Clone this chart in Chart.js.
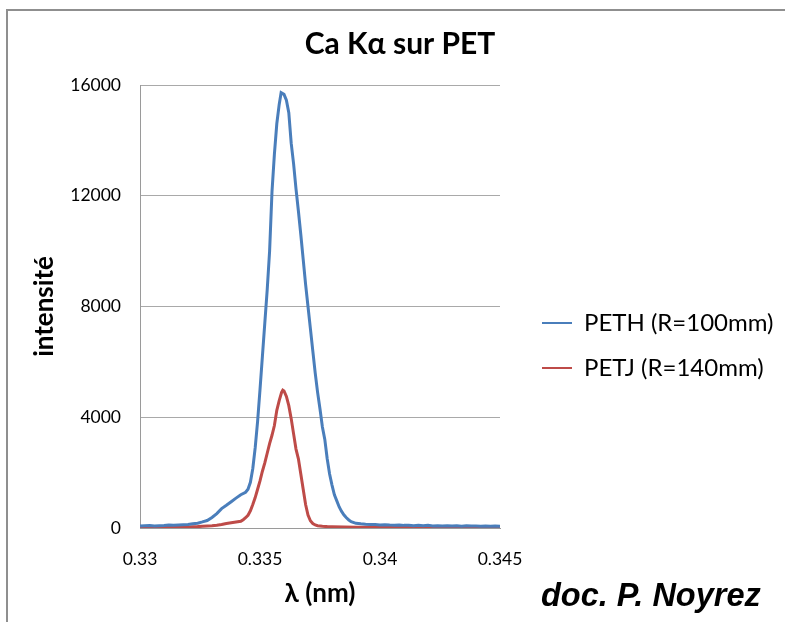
<!DOCTYPE html>
<html>
<head>
<meta charset="utf-8">
<script src="https://cdn.jsdelivr.net/npm/chart.js@4.4.1/dist/chart.umd.min.js"></script>
<style>
  html, body { margin: 0; padding: 0; background: #fff; overflow: hidden; }
  #wrap { position: relative; width: 785px; height: 622px; overflow: hidden; }
  #frame { position: absolute; left: 6px; top: 9px; width: 900px; height: 900px;
           border-left: 2px solid #8f8f8f; border-top: 2px solid #8f8f8f; }
  canvas { position: absolute; left: 0; top: 0; }
  #credit { position: absolute; left: 541px; top: 580px; font-family: "Liberation Sans", Arial, sans-serif;
            font-weight: bold; font-style: italic; font-size: 32.5px; line-height: 31px; color: #000; white-space: nowrap; }
</style>
</head>
<body>
<div id="wrap">
  <div id="frame"></div>
  <canvas id="c" width="785" height="622"></canvas>
  <div id="credit">doc. P. Noyrez</div>
</div>
<script>
// ---- data ----
const chartTitle = 'Ca Kα sur PET';
const xAxisTitle = 'λ (nm)';
const yAxisTitle = 'intensité';
const seriesNames = ['PETH (R=100mm)', 'PETJ (R=140mm)'];
const seriesColors = ['#4a7ebb', '#be4b48'];

const xTickValues = [0.33, 0.335, 0.34, 0.345];
const xTickLabels = ['0.33', '0.335', '0.34', '0.345'];
const yTickValues = [0, 4000, 8000, 12000, 16000];
const yTickLabels = ['0', '4000', '8000', '12000', '16000'];

const lambdaPETH = [
  0.3300, 0.3302, 0.3304, 0.3306, 0.3308, 0.3310, 0.3312, 0.3314, 0.3316, 0.3318,
  0.3320, 0.3322, 0.3324, 0.3326, 0.3328, 0.3330, 0.3332, 0.3334, 0.3336, 0.3338,
  0.3340, 0.3342, 0.3344, 0.3345, 0.3346, 0.3347, 0.3348, 0.3349, 0.3350, 0.3351,
  0.3352, 0.3353, 0.3354, 0.3355, 0.3356, 0.3357, 0.3358, 0.33588, 0.3360, 0.3361,
  0.3362, 0.3363, 0.3364, 0.3365, 0.3366, 0.3367, 0.3368, 0.3369, 0.3370, 0.3371,
  0.3372, 0.3373, 0.3374, 0.3375, 0.3376, 0.3377, 0.3378, 0.3379, 0.3380, 0.3381,
  0.3382, 0.3383, 0.3384, 0.3385, 0.3386, 0.3387, 0.3388, 0.3390, 0.3392, 0.3394,
  0.3396, 0.3398, 0.3400, 0.3402, 0.3404, 0.3406, 0.3408, 0.3410, 0.3412, 0.3414,
  0.3416, 0.3418, 0.3420, 0.3422, 0.3424, 0.3426, 0.3428, 0.3430, 0.3432, 0.3434,
  0.3436, 0.3438, 0.3440, 0.3442, 0.3444, 0.3446, 0.3448, 0.3450
];
const intensityPETH = [
  72, 85, 90, 70, 80, 90, 105, 100, 110, 120,
  125, 150, 175, 220, 270, 380, 520, 700, 820, 950,
  1080, 1200, 1290, 1400, 1650, 2150, 2900, 3850, 5000, 6200,
  7400, 8600, 10000, 12150, 13500, 14600, 15300, 15720, 15660, 15450,
  15000, 13900, 13150, 12250, 11450, 10600, 9700, 8800, 8000, 7200,
  6400, 5600, 4900, 4300, 3650, 3200, 2500, 1950, 1550, 1200,
  980, 760, 600, 470, 370, 290, 230, 170, 150, 135,
  130, 125, 110, 120, 105, 100, 110, 95, 100, 85,
  95, 80, 95, 75, 85, 70, 85, 70, 80, 65,
  80, 70, 75, 65, 75, 60, 70, 65
];

const lambdaPETJ = [
  0.3300, 0.3304, 0.3308, 0.3312, 0.3316, 0.3320, 0.3322, 0.3324, 0.3326, 0.3328,
  0.3330, 0.3332, 0.3334, 0.3336, 0.3338, 0.3340, 0.3342, 0.3343, 0.3344, 0.3345,
  0.3346, 0.3347, 0.3348, 0.3349, 0.3350, 0.3351, 0.3352, 0.3353, 0.3354, 0.3355,
  0.3356, 0.3357, 0.3358, 0.3359, 0.33595, 0.3360, 0.3361, 0.3362, 0.3363, 0.3364,
  0.3365, 0.3366, 0.3367, 0.3368, 0.3369, 0.3370, 0.3371, 0.3372, 0.3373, 0.3374,
  0.3376, 0.3378, 0.3380, 0.3385, 0.3390, 0.3395, 0.3400, 0.3405, 0.3410, 0.3415,
  0.3420, 0.3425, 0.3430, 0.3435, 0.3440, 0.3445, 0.3450
];
const intensityPETJ = [
  35, 35, 30, 35, 35, 40, 45, 50, 60, 70,
  80, 100, 130, 165, 190, 215, 240, 300, 370, 460,
  620, 850, 1100, 1400, 1700, 2050, 2350, 2700, 3050, 3350,
  3700, 4250, 4600, 4900, 4980, 4950, 4750, 4420, 3950, 3400,
  2850, 2500, 1950, 1400, 850, 470, 260, 160, 110, 80,
  60, 50, 45, 35, 30, 30, 28, 25, 25, 25,
  25, 25, 25, 25, 25, 25, 25
];

// ---- layout constants (not data) ----
const LEGEND_LEFT = 542, LEGEND_TOP = 311, TITLE_CENTER_X = 400;
const PLOT_LEFT = 140, PLOT_BOTTOM_GAP = 94;

const toPoints = (xs, ys) => xs.map((x, i) => ({ x: x, y: ys[i] }));

const placementPlugin = {
  id: 'placement',
  afterLayout(chart) {
    const lg = chart.legend;
    if (lg) {
      const p = lg.options.labels.padding;
      lg.left = LEGEND_LEFT - p; lg.right = chart.width;
      lg.top = LEGEND_TOP - p; lg.bottom = chart.height;
      lg.width = lg.right - lg.left; lg.height = lg.bottom - lg.top;
    }
    const t = chart.titleBlock;
    if (t) {
      const w = t.right - t.left;
      t.left = TITLE_CENTER_X - w / 2; t.right = t.left + w;
    }
  }
};

const gridColor = '#a9a9a9';
const axisColor = '#9a9a9a';

new Chart(document.getElementById('c'), {
  type: 'scatter',
  data: {
    datasets: [
      { label: seriesNames[0], data: toPoints(lambdaPETH, intensityPETH), showLine: true,
        borderColor: seriesColors[0], backgroundColor: seriesColors[0], borderWidth: 3,
        pointRadius: 0, tension: 0 },
      { label: seriesNames[1], data: toPoints(lambdaPETJ, intensityPETJ), showLine: true,
        borderColor: seriesColors[1], backgroundColor: seriesColors[1], borderWidth: 3,
        pointRadius: 0, tension: 0 }
    ]
  },
  options: {
    responsive: false,
    animation: false,
    layout: { padding: { left: 0, right: 45, top: 0, bottom: 0 } },
    plugins: {
      tooltip: { enabled: false },
      title: {
        display: true, text: chartTitle, color: '#000',
        font: { family: 'Lato', weight: 'bold', size: 30 },
        padding: { top: 26, bottom: 23 }
      },
      legend: {
        position: 'right', align: 'start', maxWidth: 240,
        labels: {
          boxWidth: 30, boxHeight: 2, padding: 21, color: '#000',
          font: { family: 'Lato', size: 24 },
          generateLabels(chart) {
            return Chart.defaults.plugins.legend.labels.generateLabels(chart)
              .map(l => Object.assign(l, { lineWidth: 0, fillStyle: l.strokeStyle }));
          }
        }
      }
    },
    scales: {
      x: {
        type: 'linear', min: xTickValues[0], max: xTickValues[xTickValues.length - 1],
        afterBuildTicks(scale) { scale.ticks = xTickValues.map(v => ({ value: v })); },
        afterFit(scale) { scale.height = PLOT_BOTTOM_GAP; },
        ticks: {
          autoSkip: false, maxRotation: 0, minRotation: 0, padding: 21, color: '#000',
          font: { family: 'Lato', size: 17.5 },
          callback: (v, i) => xTickLabels[i]
        },
        grid: { display: false, drawTicks: false },
        border: { display: true, color: axisColor, width: 1 },
        title: {
          display: true, text: xAxisTitle, color: '#000',
          font: { family: 'Lato', weight: 'bold', size: 26 },
          padding: { top: 0, bottom: 13 }
        }
      },
      y: {
        type: 'linear', min: yTickValues[0], max: yTickValues[yTickValues.length - 1],
        afterBuildTicks(scale) { scale.ticks = yTickValues.map(v => ({ value: v })); },
        afterFit(scale) { scale.width = PLOT_LEFT; },
        ticks: {
          padding: 19, color: '#000',
          font: { family: 'Lato', size: 17.5 },
          callback: (v, i) => yTickLabels[i]
        },
        grid: { color: gridColor, lineWidth: 1, drawTicks: false },
        border: { display: true, color: axisColor, width: 1 },
        title: {
          display: true, text: yAxisTitle, color: '#000',
          font: { family: 'Lato', weight: 'bold', size: 26 },
          padding: { top: 29, bottom: 0 }
        }
      }
    }
  },
  plugins: [placementPlugin]
});
</script>
</body>
</html>
